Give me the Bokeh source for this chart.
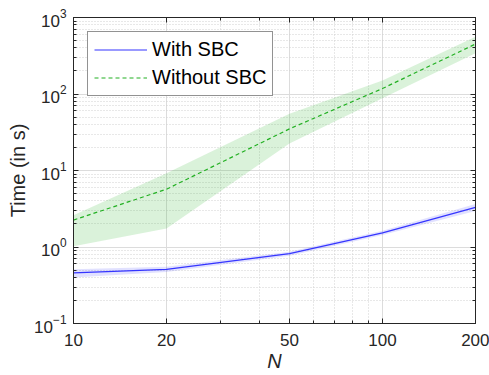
from bokeh.plotting import figure
from bokeh.models import (FixedTicker, LogAxis, Legend, LegendItem, ColumnDataSource)
from bokeh.embed import file_html
from bokeh.resources import INLINE

# ---- data ----
N = [10, 20, 50, 100, 200]
with_mean = [0.46, 0.51, 0.82, 1.53, 3.3]
with_lo = [0.40, 0.47, 0.77, 1.44, 2.95]
with_hi = [0.51, 0.55, 0.87, 1.63, 3.65]
without_mean = [2.25, 5.7, 35.0, 118.0, 450.0]
without_lo = [1.02, 1.75, 22.5, 88.0, 340.0]
without_hi = [2.6, 9.2, 55.0, 150.0, 560.0]

x_ticks = [10, 20, 50, 100, 200]
x_minor = [30, 40, 60, 70, 80, 90]
y_ticks = [0.1, 1, 10, 100, 1000]
y_minor = [k * 10.0 ** e for e in range(-1, 3) for k in range(2, 10)]

series_labels = ["With SBC", "Without SBC"]
x_label = "N"
y_label = "Time (in s)"

BLUE = "#3535ff"
GREEN = "#22b022"
TXT = "#262626"
FONT = "Liberation Sans"

p = figure(width=489, height=375, x_axis_type="log", y_axis_type="log",
           x_range=(10, 200), y_range=(0.1, 1000),
           output_backend="svg", toolbar_location=None,
           min_border_left=73, min_border_right=14, min_border_top=17,
           min_border_bottom=52)
p.background_fill_color = "white"
p.border_fill_color = "white"
p.outline_line_color = TXT
p.outline_line_width = 1

src = ColumnDataSource(dict(N=N, wm=with_mean, wl=with_lo, wh=with_hi,
                            om=without_mean, ol=without_lo, oh=without_hi))

p.varea(x="N", y1="ol", y2="oh", source=src, fill_color=GREEN, fill_alpha=0.17)
p.varea(x="N", y1="wl", y2="wh", source=src, fill_color=BLUE, fill_alpha=0.15)
r_with = p.line(x="N", y="wm", source=src, line_color=BLUE, line_width=1.2)
r_without = p.line(x="N", y="om", source=src, line_color=GREEN, line_width=1.2,
                   line_dash="4 3")

xt = FixedTicker(ticks=x_ticks, minor_ticks=x_minor)
yt = FixedTicker(ticks=y_ticks, minor_ticks=y_minor)

xa = p.xaxis[0]
ya = p.yaxis[0]
xa.ticker = xt
ya.ticker = yt
xa.major_label_overrides = {t: str(t) for t in x_ticks}

for ax in (xa, ya):
    ax.axis_line_color = TXT
    ax.major_tick_line_color = TXT
    ax.minor_tick_line_color = TXT
    ax.major_tick_in = 5
    ax.major_tick_out = 0
    ax.minor_tick_in = 3
    ax.minor_tick_out = 0
    ax.major_label_text_font = FONT
    ax.major_label_text_font_size = "17px"
    ax.major_label_text_color = TXT
    ax.axis_label_text_font = FONT
    ax.axis_label_text_font_size = "20px"
    ax.axis_label_text_color = TXT
    ax.axis_label_text_font_style = "normal"

xa.axis_label = x_label
xa.axis_label_text_font_style = "italic"
xa.major_label_standoff = 10
xa.axis_label_standoff = 1
ya.axis_label = y_label
ya.major_label_standoff = 7
ya.axis_label_standoff = 2

# mirrored axes (box on)
top = LogAxis(ticker=FixedTicker(ticks=x_ticks, minor_ticks=x_minor))
right = LogAxis(ticker=FixedTicker(ticks=y_ticks, minor_ticks=y_minor))
for ax in (top, right):
    ax.axis_line_color = TXT
    ax.major_tick_line_color = TXT
    ax.minor_tick_line_color = TXT
    ax.major_tick_in = 5
    ax.major_tick_out = 0
    ax.minor_tick_in = 3
    ax.minor_tick_out = 0
    ax.major_label_text_font_size = "1px"
    ax.major_label_text_alpha = 0
    ax.major_label_standoff = 0
p.add_layout(top, "above")
p.add_layout(right, "right")

for g in (p.xgrid[0], p.ygrid[0]):
    g.grid_line_color = "#dcdcdc"
    g.grid_line_width = 1
    g.minor_grid_line_color = "#d0d0d0"
    g.minor_grid_line_dash = "1 2"
    g.minor_grid_line_width = 1

legend = Legend(items=[LegendItem(label=series_labels[0], renderers=[r_with]),
                       LegendItem(label=series_labels[1], renderers=[r_without])],
                location="top_left")
legend.margin = 14
legend.padding = 6
legend.spacing = 5
legend.glyph_width = 53
legend.glyph_height = 23
legend.label_height = 23
legend.label_standoff = 5
legend.label_text_font = FONT
legend.label_text_font_size = "20px"
legend.label_text_color = "#000000"
legend.border_line_color = TXT
legend.border_line_width = 1
legend.background_fill_color = "white"
legend.background_fill_alpha = 1
p.add_layout(legend)

open("out.html", "w").write(file_html(p, INLINE))
